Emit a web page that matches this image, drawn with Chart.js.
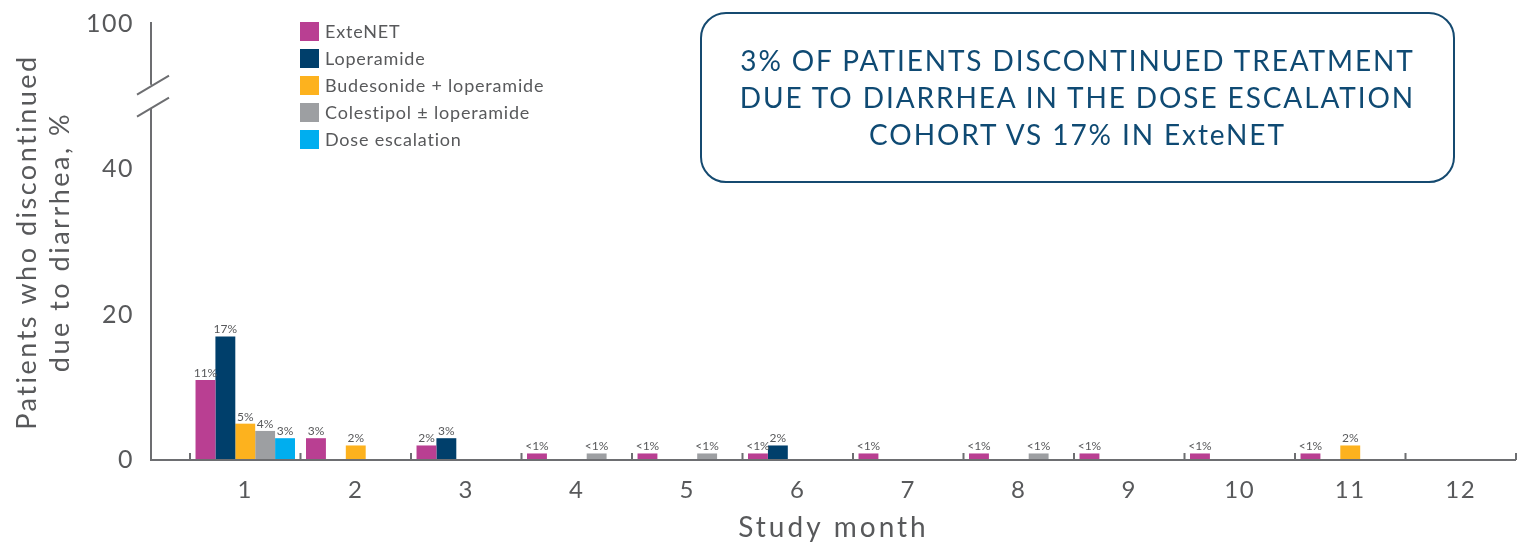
<!DOCTYPE html>
<html>
<head>
<meta charset="utf-8">
<script src="https://cdn.jsdelivr.net/npm/chart.js@4"></script>
<style>
  body { margin: 0; background: #fff; font-family: Lato, sans-serif; }
  #wrap { position: relative; width: 1522px; height: 544px; }
  #legend { position: absolute; left: 300px; top: 22px; color: #58595b; font-size: 18px; letter-spacing: 0.8px; }
  #legend div { height: 27px; display: flex; align-items: flex-start; }
  #legend span.sw { width: 19px; height: 19px; margin-right: 6px; display: inline-block; }
  #legend span.tx { line-height: 19px; }
  #callout {
    position: absolute; left: 700px; top: 12px; width: 751px; height: 167px;
    border: 2.5px solid #154a70; border-radius: 26px;
    color: #0f4a73; font-size: 28px; line-height: 37px; letter-spacing: 1.9px;
    text-align: center; display: flex; align-items: center; justify-content: center;
  }
</style>
</head>
<body>
<div id="wrap">
  <canvas id="chart" width="1522" height="544"></canvas>
  <div id="legend"></div>
  <div id="callout">3% OF PATIENTS DISCONTINUED TREATMENT<br>DUE TO DIARRHEA IN THE DOSE ESCALATION<br>COHORT VS 17% IN ExteNET</div>
</div>
<script>
// dados (valores < 1 aparecem como "<1%")
const months = ['1', '2', '3', '4', '5', '6', '7', '8', '9', '10', '11', '12'];
const extenet    = [11, 3, 2, 0.9, 0.9, 0.9, 0.9, 0.9, 0.9, 0.9, 0.9, null];
const loperamide = [17, null, 3, null, null, 2, null, null, null, null, null, null];
const budesonide = [5, 2, null, null, null, null, null, null, null, null, 2, null];
const colestipol = [4, null, null, 0.9, 0.9, null, null, 0.9, null, null, null, null];
const doseEsc    = [3, null, null, null, null, null, null, null, null, null, null, null];
const yTicks = [0, 20, 40, 60];      // 60 fica no lugar do 100 (eixo quebrado)
const yTickLabels = ['0', '20', '40', '100'];

const seriesNames = ['ExteNET', 'Loperamide', 'Budesonide + loperamide', 'Colestipol \u00b1 loperamide', 'Dose escalation'];
const seriesColors = ['#b93f92', '#003f6b', '#fdb21e', '#9d9fa2', '#00aeef'];
const seriesData = [extenet, loperamide, budesonide, colestipol, doseEsc];

const yTitle = ['Patients who discontinued', 'due to diarrhea, %'];
const xTitle = 'Study month';

const textColor = '#58595b';
const axisColor = '#6d6e71';

// legenda em HTML
const legendEl = document.getElementById('legend');
seriesNames.forEach((n, i) => {
  legendEl.innerHTML += '<div><span class="sw" style="background:' + seriesColors[i] + '"></span><span class="tx">' + n + '</span></div>';
});

// eixos desenhados à mão: linha do y com quebra, linha do x, marquinhas e títulos
const axesPlugin = {
  id: 'axes',
  afterDatasetsDraw(chart) {
    const { ctx, chartArea, scales } = chart;
    const x = scales.x, y = scales.y;
    const axisX = chartArea.left - 39;
    const y0 = y.getPixelForValue(0);
    const yTop = y.getPixelForValue(60) - 2;
    const brk = y.getPixelForValue(50);
    ctx.save();
    ctx.strokeStyle = axisColor;
    ctx.lineWidth = 2;
    ctx.beginPath();
    ctx.moveTo(axisX, yTop); ctx.lineTo(axisX, brk - 12);
    ctx.moveTo(axisX, brk + 11); ctx.lineTo(axisX, y0);
    ctx.lineTo(chartArea.right, y0);
    // quebra do eixo
    ctx.moveTo(axisX - 14, brk - 2); ctx.lineTo(axisX + 18, brk - 21);
    ctx.moveTo(axisX - 14, brk + 20); ctx.lineTo(axisX + 18, brk + 1);
    // marquinhas entre categorias
    const w = x.getPixelForValue(1) - x.getPixelForValue(0);
    for (let i = 0; i <= months.length; i++) {
      const px = x.getPixelForValue(0) - w / 2 + i * w;
      ctx.moveTo(px, y0); ctx.lineTo(px, y0 - 7);
    }
    ctx.stroke();

    // títulos dos eixos
    ctx.fillStyle = textColor;
    ctx.textAlign = 'center';
    ctx.textBaseline = 'middle';
    ctx.letterSpacing = '3px';
    ctx.font = '28px Lato';
    ctx.fillText(xTitle, (axisX + chartArea.right) / 2, 528);
    ctx.letterSpacing = '2.5px';
    ctx.font = '27px Lato';
    ctx.translate(0, (chartArea.top + chartArea.bottom) / 2);
    ctx.rotate(-Math.PI / 2);
    ctx.fillText(yTitle[0], 0, 27);
    ctx.fillText(yTitle[1], 0, 60);
    ctx.restore();
  }
};

// rótulos de valor em cima das barras
const labelsPlugin = {
  id: 'barLabels',
  afterDatasetsDraw(chart) {
    const ctx = chart.ctx;
    ctx.save();
    ctx.letterSpacing = '0px';
    ctx.font = '12px Lato';
    ctx.fillStyle = textColor;
    ctx.textAlign = 'center';
    ctx.textBaseline = 'bottom';
    chart.data.datasets.forEach((ds, di) => {
      chart.getDatasetMeta(di).data.forEach((bar, i) => {
        const v = ds.data[i];
        if (v === null) return;
        const txt = v < 1 ? '<1%' : v + '%';
        ctx.fillText(txt, bar.x, bar.y - 1);
      });
    });
    ctx.restore();
  }
};

const spacingPlugin = {
  id: 'spacing',
  beforeDraw(chart) { chart.ctx.letterSpacing = '1.5px'; }
};

const ctx = document.getElementById('chart').getContext('2d');
const chart = new Chart(ctx, {
  type: 'bar',
  data: {
    labels: months,
    datasets: seriesNames.map((n, i) => ({
      label: n,
      data: seriesData[i],
      backgroundColor: seriesColors[i],
      borderWidth: 0,
      categoryPercentage: 0.9,
      barPercentage: 1.0
    }))
  },
  options: {
    responsive: false,
    animation: false,
    layout: { padding: { top: 24, right: 6, left: 0, bottom: 0 } },
    plugins: {
      legend: { display: false },
      tooltip: { enabled: false }
    },
    scales: {
      x: {
        grid: { display: false, drawTicks: false },
        border: { display: false },
        ticks: { color: textColor, font: { family: 'Lato', size: 24 }, padding: 16 },
        afterFit(scale) { scale.height = 84; }
      },
      y: {
        min: 0, max: 60,
        grid: { display: true, drawOnChartArea: false, drawTicks: true, tickLength: 54, color: 'rgba(0,0,0,0)' },
        border: { display: false },
        afterBuildTicks(scale) { scale.ticks = yTicks.map(v => ({ value: v })); },
        ticks: {
          color: textColor, font: { family: 'Lato', size: 25 }, padding: 2,
          callback: (v) => yTickLabels[yTicks.indexOf(v)]
        },
        afterFit(scale) { scale.width = 190; }
      }
    }
  },
  plugins: [spacingPlugin, axesPlugin, labelsPlugin]
});
</script>
</body>
</html>
